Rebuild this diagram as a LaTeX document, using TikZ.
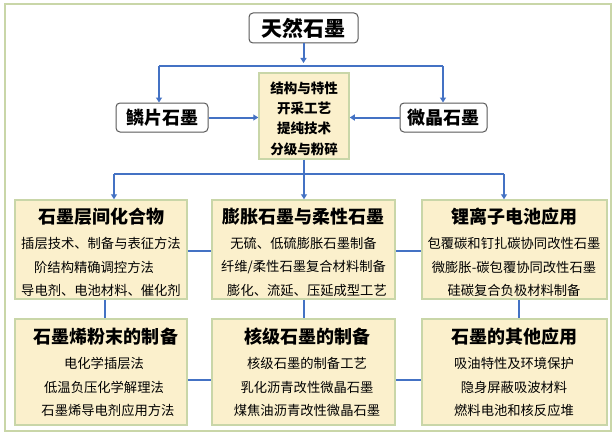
\documentclass[tikz,border=0pt]{standalone}
\usepackage{fontspec}
\setmainfont{Noto Sans CJK SC}
\usetikzlibrary{arrows.meta}
\definecolor{ln}{HTML}{4472C4}
\definecolor{bx}{HTML}{FBF0CC}
\definecolor{bd}{HTML}{C9D6A8}
\begin{document}
\begin{tikzpicture}[x=1pt,y=-1pt,
 wb/.style={draw=gray!70!black,line width=1pt,rounded corners=4pt,fill=white,font=\fontsize{18}{18}\selectfont\bfseries},
 yb/.style={draw=bd,line width=1.5pt,fill=bx},
 con/.style={draw=ln,line width=2pt},
 arr/.style={con,-{Triangle[length=5pt,width=6pt]}},
 ttl/.style={font=\fontsize{18}{18}\selectfont\bfseries},
 bod/.style={font=\fontsize{13.3}{13.3}\selectfont},
 cen/.style={font=\fontsize{13.5}{13.5}\selectfont\bfseries}]
\useasboundingbox (0,0) rectangle (616,436);
\fill[white] (0,0) rectangle (616,436);
\draw[bd,line width=1.5pt] (5,4) rectangle (611,431);
% top
\node[wb,minimum width=109pt,minimum height=30pt,font=\fontsize{21}{21}\selectfont\bfseries] (top) at (303.5,28) {天然石墨};
\node[wb,minimum width=92pt,minimum height=29pt] (lp) at (162,117.5) {鳞片石墨};
\node[wb,minimum width=87pt,minimum height=29pt] (wj) at (443.5,117.5) {微晶石墨};
\node[yb,minimum width=90pt,minimum height=86pt] (c) at (304,116) {};
\node[cen] (c1) at (304,88) {结构与特性};
\node[cen] (c2) at (304,108) {开采工艺};
\node[cen] (c3) at (304,128) {提纯技术};
\node[cen] (c4) at (304,149) {分级与粉碎};
\coordinate (s1) at (303.5,66);
\coordinate (sl) at (159,66);
\coordinate (sr) at (443,66);
\draw[arr] (top.south) -- ([yshift=3pt]s1);
\draw[con] (sl) -- (sr);
\draw[arr] (sl) -- (sl|-lp.north);
\draw[arr] (sr) -- (sr|-wj.north);
\draw[arr] (lp.east) -- (c.west|-lp.east);
\draw[arr] (wj.west) -- (c.east|-wj.west);
% row boxes
\node[yb,minimum width=172pt,minimum height=99pt] (A) at (101,249.5) {};
\node[yb,minimum width=183pt,minimum height=99pt] (B) at (303.5,249.5) {};
\node[yb,minimum width=185pt,minimum height=99pt] (C) at (514.5,249.5) {};
\node[yb,minimum width=172pt,minimum height=106pt] (D) at (101,372) {};
\node[yb,minimum width=183pt,minimum height=106pt] (E) at (303.5,372) {};
\node[yb,minimum width=185pt,minimum height=106pt] (F) at (514.5,372) {};
\coordinate (m) at (304,174);
\coordinate (ml) at (114,174);
\coordinate (mr) at (504,174);
\draw[con] (c.south) -- (m);
\draw[con] (ml) -- (mr);
\draw[arr] (ml) -- (ml|-A.north);
\draw[arr] (m) -- (m|-B.north);
\draw[arr] (mr) -- (mr|-C.north);
\draw[con] (A.east|-0,251) -- (B.west|-0,251);
\draw[con] (B.east|-0,251) -- (C.west|-0,251);
\draw[con] (D.east|-0,380) -- (E.west|-0,380);
\draw[con] (E.east|-0,380) -- (F.west|-0,380);
\draw[con] (A.south-|105,0) -- (D.north-|105,0);
\draw[con] (B.south-|304,0) -- (E.north-|304,0);
\draw[con] (C.south-|519,0) -- (F.north-|519,0);
% texts row1
\node[ttl] (At) at (101,217) {石墨层间化合物};
\node[bod] (A1) at (101,243) {插层技术、制备与表征方法};
\node[bod] (A2) at (94,267) {阶结构精确调控方法};
\node[bod] (A3) at (101,290) {导电剂、电池材料、催化剂};
\node[ttl] (Bt) at (303.5,217) {膨胀石墨与柔性石墨};
\node[bod] (B1) at (303.5,243) {无硫、低硫膨胀石墨制备};
\node[bod] (B2) at (303.5,267) {纤维/柔性石墨复合材料制备};
\node[bod] (B3) at (307,290) {膨化、流延、压延成型工艺};
\node[ttl] (Ct) at (514,217) {锂离子电池应用};
\node[bod] (C1) at (514,243) {包覆碳和钉扎碳协同改性石墨};
\node[bod] (C2) at (514,267) {微膨胀-碳包覆协同改性石墨};
\node[bod] (C3) at (514,290) {硅碳复合负极材料制备};
% row2
\node[ttl] (Dt) at (106,337) {石墨烯粉末的制备};
\node[bod] (D1) at (104,363) {电化学插层法};
\node[bod] (D2) at (104,387) {低温负压化学解理法};
\node[bod] (D3) at (108,410) {石墨烯导电剂应用方法};
\node[ttl] (Et) at (307,337) {核级石墨的制备};
\node[bod] (E1) at (307,363) {核级石墨的制备工艺};
\node[bod] (E2) at (307,387) {乳化沥青改性微晶石墨};
\node[bod] (E3) at (307,410) {煤焦油沥青改性微晶石墨};
\node[ttl] (Ft) at (514,337) {石墨的其他应用};
\node[bod] (F1) at (514,363) {吸油特性及环境保护};
\node[bod] (F2) at (514,387) {隐身屏蔽吸波材料};
\node[bod] (F3) at (514,410) {燃料电池和核反应堆};
\end{tikzpicture}
\end{document}
